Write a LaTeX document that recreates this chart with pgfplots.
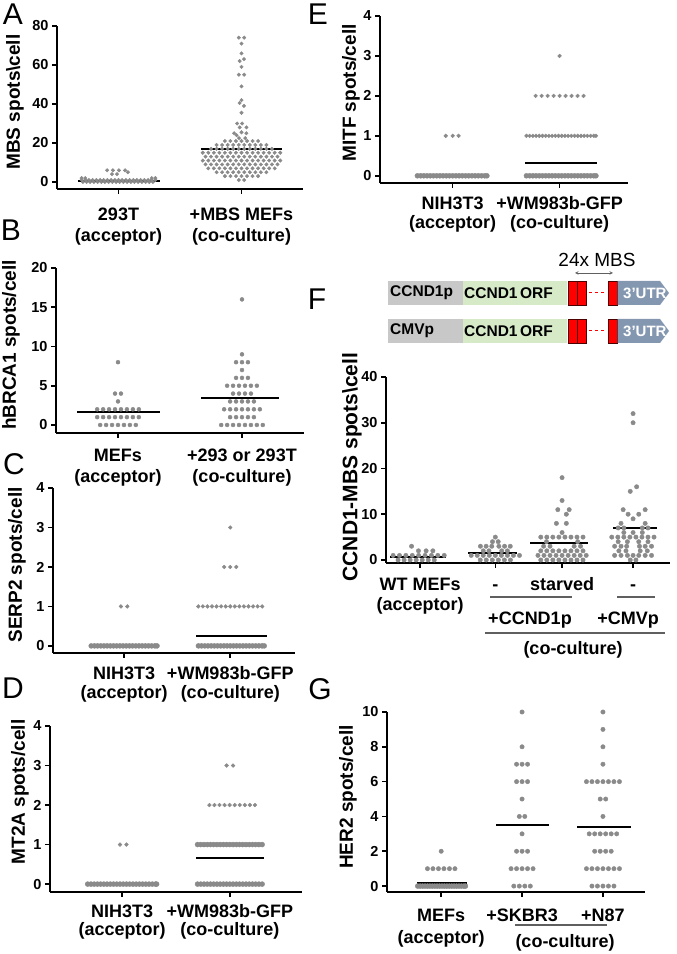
\documentclass[border=0pt]{standalone}
\usepackage{pgfplots}
\pgfplotsset{compat=1.18}
\usepackage{fontspec}
\setmainfont{Liberation Sans}
\definecolor{dotgray}{RGB}{138,138,138}
\definecolor{boxgray}{RGB}{200,200,200}
\definecolor{boxgreen}{RGB}{214,234,200}
\definecolor{utrblue}{RGB}{132,151,176}
\definecolor{linegray}{RGB}{95,95,95}
\newcommand{\fs}[1]{\fontsize{#1}{#1}\selectfont}
\pgfplotsset{
 prism/.style={
  scale only axis, anchor=south west, clip=false,
  axis lines=left, axis line style={-, line width=1.8pt, black},
  tick align=outside, major tick length=5pt,
  tick style={black, line width=1.6pt},
  /pgf/number format/assume math mode=true,
  yticklabel style={font=\bfseries\fontsize{14.5}{14.5}\selectfont},
  xticklabel style={font=\bfseries\fontsize{18}{21}\selectfont, align=center},
 },
 dots/.style={only marks, mark=*, mark size=2pt, color=dotgray, mark options={draw=none, fill=dotgray}},
 sdots/.style={dots, mark size=1.9pt},
 bar/.style={dots, mark size=2.5pt},
 mean/.style={black, line width=2pt, no marks},
}
\begin{document}
\begin{tikzpicture}
\path[use as bounding box] (0,0) rectangle (677pt,954pt);

% ---------------- A
\begin{axis}[prism, at={(57pt,765pt)}, width=246pt, height=163pt,
 xmin=0.5, xmax=2.5, ymin=-3.6, ymax=80, ytick={0,20,40,60,80},
 xticklabel style={yshift=-8pt},
 xtick={1,2}, xticklabels={{\strut 293T\\[0pt](acceptor)},{\strut +MBS MEFs\\[0pt](co-culture)}}]
\addplot[dots, mark size=1.75pt] coordinates {
(0.71,0)(0.74,0)(0.77,0)(0.80,0)(0.83,0)(0.86,0)(0.89,0)(0.92,0)(0.95,0)(0.98,0)(1.01,0)(1.04,0)(1.07,0)(1.10,0)(1.13,0)(1.16,0)(1.19,0)(1.22,0)(1.25,0)(1.28,0)
(0.70,1)(0.73,1)(0.76,1)(0.79,1)(0.82,1)(0.85,1)(0.88,1)(0.91,1)(0.94,1)(0.97,1)(1.00,1)(1.03,1)(1.06,1)(1.09,1)(1.12,1)(1.15,1)(1.18,1)(1.21,1)(1.24,1)(1.27,1)(1.30,1)
(0.70,2)(0.73,2)(1.27,2)(1.30,2)
(0.947,4)(0.988,4)
(0.907,6)(0.955,6)(1.004,6)(1.053,6)(1.077,5)
};
\addplot[dots, mark size=1.75pt] coordinates {
(1.978,74)(2.022,74)(2,71)(2,66)(2.02,63)(1.985,62)(2,59)(1.978,55)(2.022,55)(2,49)(2,42)(1.985,40.5)(2.02,39)(2,35.5)(1.965,30)(2.005,30)(1.985,28)(2.04,28)(1.94,25)(2,25.5)(2.04,25)(1.96,24)(1.98,22.5)(2.03,22.5)
(1.865,21)(1.91,21)(1.955,21)(2,21)(2.045,21)(2.09,21)(2.135,21)
(1.7975,19)(1.8425,19)(1.8875,19)(1.9325,19)(1.9775,19)(2.0225,19)(2.0675,19)(2.1125,19)(2.1575,19)(2.2025,19)
(1.7525,17)(1.7975,17)(1.8425,17)(1.8875,17)(1.9325,17)(1.9775,17)(2.0225,17)(2.0675,17)(2.1125,17)(2.1575,17)(2.2025,17)(2.2475,17)
(1.685,15)(1.73,15)(1.775,15)(1.82,15)(1.865,15)(1.91,15)(1.955,15)(2,15)(2.045,15)(2.09,15)(2.135,15)(2.18,15)(2.225,15)(2.27,15)(2.315,15)
(1.7075,13)(1.7525,13)(1.7975,13)(1.8425,13)(1.8875,13)(1.9325,13)(1.9775,13)(2.0225,13)(2.0675,13)(2.1125,13)(2.1575,13)(2.2025,13)(2.2475,13)(2.2925,13)
(1.685,11)(1.73,11)(1.775,11)(1.82,11)(1.865,11)(1.91,11)(1.955,11)(2,11)(2.045,11)(2.09,11)(2.135,11)(2.18,11)(2.225,11)(2.27,11)(2.315,11)
(1.7075,9)(1.7525,9)(1.7975,9)(1.8425,9)(1.8875,9)(1.9325,9)(1.9775,9)(2.0225,9)(2.0675,9)(2.1125,9)(2.1575,9)(2.2025,9)(2.2475,9)(2.2925,9)
(1.73,7)(1.775,7)(1.82,7)(1.865,7)(1.91,7)(1.955,7)(2,7)(2.045,7)(2.09,7)(2.135,7)(2.18,7)(2.225,7)(2.27,7)
(1.7975,5)(1.8425,5)(1.8875,5)(1.9325,5)(1.9775,5)(2.0225,5)(2.0675,5)(2.1125,5)(2.1575,5)(2.2025,5)
(1.865,3)(1.91,3)(1.955,3)(2,3)(2.045,3)(2.09,3)(2.135,3)
(1.978,1)(2.022,1)
};
\addplot[mean] coordinates {(0.67,0.7)(1.34,0.7)};
\addplot[mean] coordinates {(1.67,17)(2.33,17)};
\end{axis}

% ---------------- B
\begin{axis}[prism, at={(56pt,521pt)}, width=248pt, height=165pt,
 xmin=0.5, xmax=2.5, ymin=-1.02, ymax=20, ytick={0,5,10,15,20},
 xticklabel style={yshift=-5pt},
 xtick={1,2}, xticklabels={{\strut MEFs\\[0pt](acceptor)},{\strut +293 or 293T\\[0pt](co-culture)}}]
\addplot[dots] coordinates {
(1,8)(0.976,4)(1.024,4)(1,3)
(0.832,2)(0.88,2)(0.928,2)(0.976,2)(1.024,2)(1.072,2)(1.12,2)(1.168,2)
(0.832,1)(0.88,1)(0.928,1)(0.976,1)(1.024,1)(1.072,1)(1.12,1)(1.168,1)
(0.856,0)(0.904,0)(0.952,0)(1,0)(1.048,0)(1.096,0)(1.144,0)
};
\addplot[dots] coordinates {
(2,16)(2,9)(1.952,8)(2,8)(2.048,8)(2,7)(1.952,6)(2,6)(2.048,6)
(1.88,5)(1.928,5)(1.976,5)(2.024,5)(2.072,5)(2.12,5)
(1.928,4)(1.976,4)(2.024,4)(2.072,4)
(1.904,3)(1.952,3)(2,3)(2.048,3)(2.096,3)
(1.856,2)(1.904,2)(1.952,2)(2,2)(2.048,2)(2.096,2)(2.144,2)
(1.904,1)(1.952,1)(2,1)(2.048,1)(2.096,1)
(1.832,0)(1.88,0)(1.928,0)(1.976,0)(2.024,0)(2.072,0)(2.12,0)(2.168,0)
};
\addplot[mean] coordinates {(0.67,1.6)(1.34,1.6)};
\addplot[mean] coordinates {(1.67,3.5)(2.30,3.5)};
\end{axis}

% ---------------- C
\begin{axis}[prism, at={(53pt,301pt)}, width=242pt, height=165pt,
 xmin=0.33, xmax=2.61, ymin=-0.18, ymax=4, ytick={0,1,2,3,4},
 xticklabel style={yshift=-3pt},
 xtick={1,2}, xticklabels={{\strut NIH3T3\\[-2pt](acceptor)},{\strut +WM983b-GFP\\[-2pt](co-culture)}}]
\addplot[sdots] coordinates {(0.97,1)(1.03,1)};
\addplot[bar] coordinates {
(0.69,0)(0.72,0)(0.75,0)(0.78,0)(0.81,0)(0.84,0)(0.87,0)(0.90,0)(0.93,0)(0.96,0)(0.99,0)(1.02,0)(1.05,0)(1.08,0)(1.11,0)(1.14,0)(1.17,0)(1.20,0)(1.23,0)(1.26,0)(1.29,0)(1.31,0)
};
\addplot[sdots] coordinates {
(2,3)(1.943,2)(2,2)(2.057,2)
(1.699,1)(1.742,1)(1.785,1)(1.828,1)(1.871,1)(1.914,1)(1.957,1)(2,1)(2.043,1)(2.086,1)(2.129,1)(2.172,1)(2.215,1)(2.258,1)(2.301,1)
};
\addplot[bar] coordinates {
(1.70,0)(1.73,0)(1.76,0)(1.79,0)(1.82,0)(1.85,0)(1.88,0)(1.91,0)(1.94,0)(1.97,0)(2.00,0)(2.03,0)(2.06,0)(2.09,0)(2.12,0)(2.15,0)(2.18,0)(2.21,0)(2.24,0)(2.27,0)(2.30,0)(2.32,0)
};
\addplot[mean] coordinates {(0.67,0)(1.33,0)};
\addplot[mean] coordinates {(1.68,0.25)(2.35,0.25)};
\end{axis}

% ---------------- D
\begin{axis}[prism, at={(50pt,62pt)}, width=252pt, height=166pt,
 xmin=0.33, xmax=2.67, ymin=-0.2, ymax=4, ytick={0,1,2,3,4},
 xticklabel style={yshift=-2pt},
 xtick={1,2}, xticklabels={{\strut NIH3T3\\[-3pt](acceptor)},{\strut +WM983b-GFP\\[-3pt](co-culture)}}]
\addplot[sdots] coordinates {(0.98,1)(1.04,1)};
\addplot[bar] coordinates {
(0.68,0)(0.71,0)(0.74,0)(0.77,0)(0.80,0)(0.83,0)(0.86,0)(0.89,0)(0.92,0)(0.95,0)(0.98,0)(1.01,0)(1.04,0)(1.07,0)(1.10,0)(1.13,0)(1.16,0)(1.19,0)(1.22,0)(1.25,0)(1.28,0)(1.31,0)(1.32,0)
};
\addplot[sdots] coordinates {
(1.97,3)(2.03,3)
(1.81,2)(1.857,2)(1.904,2)(1.951,2)(1.998,2)(2.045,2)(2.092,2)(2.139,2)(2.186,2)(2.233,2)
};
\addplot[bar] coordinates {
(1.70,1)(1.73,1)(1.76,1)(1.79,1)(1.82,1)(1.85,1)(1.88,1)(1.91,1)(1.94,1)(1.97,1)(2.00,1)(2.03,1)(2.06,1)(2.09,1)(2.12,1)(2.15,1)(2.18,1)(2.21,1)(2.24,1)(2.27,1)(2.30,1)
(1.70,0)(1.73,0)(1.76,0)(1.79,0)(1.82,0)(1.85,0)(1.88,0)(1.91,0)(1.94,0)(1.97,0)(2.00,0)(2.03,0)(2.06,0)(2.09,0)(2.12,0)(2.15,0)(2.18,0)(2.21,0)(2.24,0)(2.27,0)(2.30,0)
};
\addplot[mean] coordinates {(0.67,0)(1.33,0)};
\addplot[mean] coordinates {(1.69,0.65)(2.32,0.65)};
\end{axis}

% ---------------- E
\begin{axis}[prism, at={(380pt,771pt)}, width=248pt, height=167pt,
 xmin=0.32, xmax=2.64, ymin=-0.18, ymax=4, ytick={0,1,2,3,4},
 xticklabel style={yshift=-3pt},
 xtick={1,2}, xticklabels={{\strut NIH3T3\\[-2pt](acceptor)},{\strut +WM983b-GFP\\[-2pt](co-culture)}}]
\addplot[sdots] coordinates {(0.935,1)(1,1)(1.055,1)};
\addplot[bar] coordinates {
(0.67,0)(0.70,0)(0.73,0)(0.76,0)(0.79,0)(0.82,0)(0.85,0)(0.88,0)(0.91,0)(0.94,0)(0.97,0)(1.00,0)(1.03,0)(1.06,0)(1.09,0)(1.12,0)(1.15,0)(1.18,0)(1.21,0)(1.24,0)(1.27,0)(1.30,0)(1.32,0)
};
\addplot[sdots] coordinates {
(2,3)
(1.776,2)(1.832,2)(1.888,2)(1.944,2)(2,2)(2.056,2)(2.112,2)(2.168,2)(2.224,2)
(1.69,1)(1.72,1)(1.75,1)(1.78,1)(1.81,1)(1.84,1)(1.87,1)(1.90,1)(1.93,1)(1.96,1)(1.99,1)(2.02,1)(2.05,1)(2.08,1)(2.11,1)(2.14,1)(2.17,1)(2.20,1)(2.23,1)(2.26,1)(2.29,1)(2.32,1)(2.34,1)
};
\addplot[bar] coordinates {
(1.69,0)(1.72,0)(1.75,0)(1.78,0)(1.81,0)(1.84,0)(1.87,0)(1.90,0)(1.93,0)(1.96,0)(1.99,0)(2.02,0)(2.05,0)(2.08,0)(2.11,0)(2.14,0)(2.17,0)(2.20,0)(2.23,0)(2.26,0)(2.29,0)(2.32,0)(2.34,0)
};
\addplot[mean] coordinates {(0.66,0)(1.33,0)};
\addplot[mean] coordinates {(1.68,0.32)(2.35,0.32)};
\end{axis}

% ---------------- F
\begin{axis}[prism, at={(386pt,391pt)}, width=284pt, height=186pt,
 xmin=0.52, xmax=4.52, ymin=-0.66, ymax=40, ytick={0,10,20,30,40},
 xticklabel style={yshift=-4pt},
 xtick={1,2.06,3,4}, xticklabels={{\strut WT MEFs\\[-1pt](acceptor)},{\strut -},{\strut starved},{\strut -}}]
\addplot[dots, mark size=2.2pt] coordinates {
(0.88,3)(0.977,2)(1.085,2)(1.18,2)
(0.62,1)(0.71,1)(0.80,1)(0.89,1)(0.98,1)(1.07,1)(1.16,1)(1.25,1)(1.34,1)
(0.69,0)(0.775,0)(0.86,0)(0.945,0)(1.03,0)(1.115,0)(1.2,0)
};
\addplot[dots, mark size=2.2pt] coordinates {
(2.06,5)(2.02,4)(2.10,4)
(1.85,3)(1.93,3)(2.01,3)(2.11,3)(2.19,3)(2.27,3)
(1.89,2)(1.97,2)(2.15,2)(2.23,2)
(1.72,1)(1.805,1)(1.89,1)(1.975,1)(2.06,1)(2.145,1)(2.23,1)(2.315,1)(2.40,1)
(1.8475,0)(1.9325,0)(2.0175,0)(2.1025,0)(2.1875,0)(2.2725,0)
};
\addplot[dots, mark size=2.2pt] coordinates {
(3,18)(3,13)(2.94,11)(3.1,11)(3.06,10)(2.92,8)(3.06,8)(3,6)
(2.70,5)(2.785,5)(2.87,5)(2.955,5)(3.04,5)(3.125,5)(3.21,5)(3.295,5)
(2.78,4)(3.22,4)
(2.74,3)(2.83,3)(3.17,3)(3.26,3)
(2.70,2)(2.785,2)(2.87,2)(2.955,2)(3.04,2)(3.125,2)(3.21,2)(3.295,2)
(2.66,1)(2.745,1)(2.83,1)(2.915,1)(3.0,1)(3.085,1)(3.17,1)(3.255,1)(3.34,1)
(2.70,0)(2.785,0)(2.87,0)(2.955,0)(3.04,0)(3.125,0)(3.21,0)(3.295,0)
};
\addplot[dots, mark size=2.2pt] coordinates {
(4,32)(4,30)(4.05,16)(3.96,15)(3.86,11)(4.17,11)(3.93,10)(4.08,10)(4,9)
(3.83,8)(4.17,8)(3.79,7)(3.87,7)(4.13,7)(4.21,7)(3.87,6)(4.0,6)(4.13,6)
(3.70,5)(3.785,5)(3.87,5)(3.955,5)(4.04,5)(4.125,5)(4.21,5)(4.295,5)
(3.79,4)(3.92,4)(4.08,4)(4.21,4)
(3.74,3)(3.83,3)(3.91,3)(4.09,3)(4.17,3)(4.26,3)
(3.80,2)(3.90,2)(4.10,2)(4.20,2)
(3.74,1)(3.83,1)(3.92,1)(4.0,1)(4.08,1)(4.17,1)(4.26,1)
(3.96,0)(4.04,0)
};
\addplot[mean] coordinates {(0.58,0.7)(1.37,0.7)};
\addplot[mean] coordinates {(1.68,1.5)(2.36,1.5)};
\addplot[mean] coordinates {(2.55,3.7)(3.37,3.7)};
\addplot[mean] coordinates {(3.72,7)(4.34,7)};
\end{axis}

% ---------------- G
\begin{axis}[prism, at={(387pt,62pt)}, width=258pt, height=180pt,
 xmin=0.33, xmax=3.52, ymin=-0.34, ymax=10, ytick={0,2,4,6,8,10},
 xticklabel style={yshift=-6pt},
 xtick={1,2,3}, xticklabels={{\strut MEFs\\[1pt](acceptor)},{\strut +SKBR3},{\strut +N87}}]
\addplot[dots, mark size=2.2pt] coordinates {
(1,2)(0.83,1)(0.898,1)(0.966,1)(1.034,1)(1.102,1)(1.17,1)
};
\addplot[bar] coordinates {
(0.71,0)(0.74,0)(0.77,0)(0.80,0)(0.83,0)(0.86,0)(0.89,0)(0.92,0)(0.95,0)(0.98,0)(1.01,0)(1.04,0)(1.07,0)(1.10,0)(1.13,0)(1.16,0)(1.19,0)(1.22,0)(1.25,0)(1.28,0)(1.30,0)
};
\addplot[dots, mark size=2.2pt] coordinates {
(2,10)(2,8)(1.932,7)(2,7)(2.068,7)(1.932,6)(2,6)(2.068,6)(2,5)(1.966,4)(2.034,4)(2,3)
(1.932,2)(2,2)(2.068,2)
(1.864,1)(1.932,1)(2,1)(2.068,1)(2.136,1)
(1.898,0)(1.966,0)(2.034,0)(2.102,0)
};
\addplot[dots, mark size=2.2pt] coordinates {
(3,10)(3,9)(3,8)(3,7)
(2.796,6)(2.864,6)(2.932,6)(3,6)(3.068,6)(3.136,6)(3.204,6)
(2.966,5)(3.034,5)(3,4)
(2.83,3)(2.898,3)(2.966,3)(3.034,3)(3.102,3)(3.17,3)
(2.898,2)(2.966,2)(3.034,2)(3.102,2)
(2.796,1)(2.864,1)(2.932,1)(3,1)(3.068,1)(3.136,1)(3.204,1)
(2.864,0)(2.932,0)(3,0)(3.068,0)(3.136,0)
};
\addplot[mean] coordinates {(0.70,0.15)(1.32,0.15)};
\addplot[mean] coordinates {(1.68,3.5)(2.33,3.5)};
\addplot[mean] coordinates {(2.68,3.4)(3.35,3.4)};
\end{axis}

% ---------------- y labels
\begin{scope}[every node/.style={font=\bfseries\fs{19}, rotate=90}]
\node at (15pt,852pt) {MBS spots\textbackslash cell};
\node at (11pt,609pt) {hBRCA1 spots/cell};
\node at (17pt,389pt) {SERP2 spots/cell};
\node at (20pt,162pt) {MT2A spots/cell};
\node at (351pt,861pt) {MITF spots/cell};
\node[font=\bfseries\fs{21}] at (352pt,487pt) {CCND1-MBS spots\textbackslash cell};
\node at (348pt,157pt) {HER2 spots/cell};
\end{scope}

% ---------------- panel letters
\begin{scope}[every node/.style={font=\fs{30}}]
\node at (13pt,940pt) {A};
\node at (318pt,940pt) {E};
\node at (11pt,724pt) {B};
\node at (317pt,655pt) {F};
\node at (14pt,490pt) {C};
\node at (13pt,266pt) {D};
\node at (320pt,265pt) {G};
\end{scope}

% ---------------- F annotations
\draw[linegray, line width=1.3pt] (490pt,357pt) -- (572pt,357pt);
\draw[linegray, line width=1.3pt] (617pt,357pt) -- (655pt,357pt);
\node[font=\bfseries\fs{18}] at (530pt,334pt) {+CCND1p};
\node[font=\bfseries\fs{18}] at (628pt,334pt) {+CMVp};
\draw[linegray, line width=1.3pt] (485pt,321pt) -- (665pt,321pt);
\node[font=\bfseries\fs{18}] at (573pt,304pt) {(co-culture)};

% ---------------- G annotations
\draw[linegray, line width=1.3pt] (515pt,29pt) -- (607pt,29pt);
\node[font=\bfseries\fs{18}] at (565pt,11pt) {(co-culture)};

% ---------------- construct diagram (F)
\node[font=\fontsize{19}{19}\selectfont] at (597pt,694pt) {24x MBS};
\draw[<->, >=stealth, linegray, line width=0.6pt] (575pt,681pt) -- (613pt,681pt);
\foreach \yb/\lab in {649/CCND1p, 611/CMVp}{
  \fill[boxgray] (388pt,\yb pt) rectangle (463pt,\yb pt+24pt);
  \fill[boxgreen] (463pt,\yb pt) rectangle (567pt,\yb pt+24pt);
  \filldraw[fill=red, draw=black!70!red, line width=0.6pt] (568pt,\yb pt) rectangle (577pt,\yb pt+24pt);
  \filldraw[fill=red, draw=black!70!red, line width=0.6pt] (577pt,\yb pt) rectangle (586pt,\yb pt+24pt);
  \draw[red, dashed, line width=1pt] (589pt,\yb pt+12pt) -- (607pt,\yb pt+12pt);
  \filldraw[fill=red, draw=black!70!red, line width=0.6pt] (608pt,\yb pt) rectangle (617pt,\yb pt+24pt);
  \fill[utrblue] (617.5pt,\yb pt) -- (660pt,\yb pt) -- (669pt,\yb pt+12pt) -- (660pt,\yb pt+24pt) -- (617.5pt,\yb pt+24pt) -- cycle;
  \node[font=\bfseries\fontsize{15.5}{15.5}\selectfont, anchor=west, inner sep=0pt] at (390pt,\yb pt+12pt) {\lab};
  \node[font=\bfseries\fontsize{15.5}{15.5}\selectfont, anchor=west, inner sep=0pt] at (464pt,\yb pt+12pt) {CCND1\,ORF};
  \node[font=\bfseries\fontsize{15}{15}\selectfont, text=white, anchor=west, inner sep=0pt] at (623pt,\yb pt+12pt) {3'UTR};
}
\end{tikzpicture}
\end{document}
